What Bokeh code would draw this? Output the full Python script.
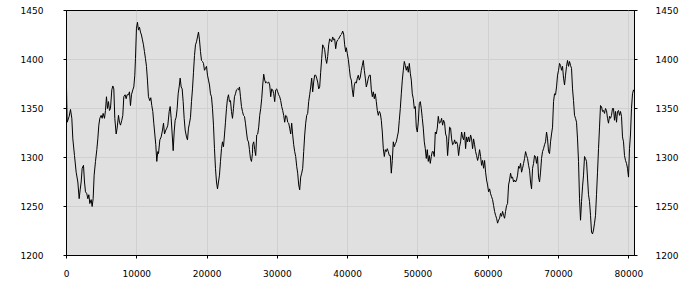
from bokeh.plotting import figure
from bokeh.models import Range1d, LinearAxis, FixedTicker, PrintfTickFormatter
from bokeh.embed import file_html
from bokeh.resources import INLINE

x_vals = [
    0, 95, 379, 569, 758, 901, 1138, 1375, 1612, 1801, 1943, 2086, 2228, 2417, 2560, 2702, 2891, 3034, 3176, 3318,
    3508, 3650, 3792, 3934, 4124, 4313, 4456, 4598, 4740, 4930, 5072, 5214, 5404, 5546, 5688, 5830, 5972, 6115, 6257, 6446,
    6589, 6731, 6873, 7063, 7205, 7394, 7537, 7679, 7868, 8011, 8153, 8342, 8485, 8627, 8816, 8959, 9101, 9243, 9433, 9575,
    9717, 9812, 9954, 10096, 10238, 10381, 10523, 10665, 10807, 10949, 11092, 11234, 11376, 11518, 11660, 11850, 11992, 12134, 12277, 12419,
    12561, 12703, 12845, 12988,
    13090, 13280, 13469, 13659, 13801, 13943, 14133, 14275, 14417, 14607, 14749, 14891, 15033, 15176, 15318, 15460, 15602, 15744, 15887, 16029,
    16171, 16313, 16455, 16598, 16740, 16882, 17072, 17214, 17356, 17498, 17640, 17783, 17925, 18067, 18209, 18351, 18494, 18636, 18778, 18920,
    19062, 19205, 19347, 19489, 19631, 19773, 19916, 20058, 20200, 20342, 20484, 20627, 20769, 20911, 21053, 21195, 21338, 21480, 21622, 21764,
    21906, 22049, 22191, 22333, 22475, 22617, 22760, 22902, 23044, 23186, 23328, 23471, 23613, 23755, 23897, 24039, 24182, 24324, 24466, 24608,
    24750, 24893, 25035, 25177, 25319, 25461, 25604, 25746, 25888, 26030, 26172, 26315, 26457,
    26492, 26634, 26776, 26919, 27061, 27203, 27345, 27487, 27630, 27772, 27914, 28056, 28198, 28341, 28483, 28625, 28767, 28909, 29052, 29194,
    29336, 29478, 29620, 29763, 29905, 30047, 30189, 30331, 30474, 30616, 30758, 30900, 31042, 31185, 31327, 31469, 31611, 31753, 31896, 32038,
    32180, 32322, 32464, 32607, 32749, 32891, 33033, 33175, 33318, 33460, 33602, 33744, 33886, 34029, 34171, 34313, 34455, 34597, 34740, 34882,
    35024, 35166, 35308, 35451, 35593, 35735, 35877, 36019, 36162, 36304, 36446, 36588, 36730, 36873, 37015, 37157, 37299, 37441, 37584, 37726,
    37868, 38010, 38152, 38295, 38437, 38579, 38721, 38863, 39006, 39148, 39290, 39432, 39574, 39717,
    39810, 39952, 40094, 40237, 40379, 40521, 40663, 40805, 40948, 41090, 41232, 41374, 41516, 41659, 41801, 41943, 42085, 42227, 42370, 42512,
    42654, 42796, 42938, 43081, 43223, 43365, 43507, 43649, 43792, 43934, 44076, 44218, 44360, 44503, 44645, 44787, 44929, 45071, 45214, 45356,
    45498, 45640, 45782, 45925, 46067, 46209, 46351, 46493, 46636, 46778, 46920, 47062, 47204, 47347, 47489, 47631, 47773, 47915, 48058, 48200,
    48342, 48484, 48626, 48769, 48911, 49053, 49195, 49337, 49480, 49622, 49764, 49906, 50048, 50191, 50333, 50475, 50617, 50759, 50902, 51044,
    51186, 51328, 51470, 51613, 51755, 51897, 52039, 52181, 52324, 52466, 52608, 52750, 52892, 53035,
    53222, 53364, 53506, 53649, 53791, 53933, 54075, 54217, 54360, 54502, 54644, 54786, 54928, 55071, 55213, 55355, 55497, 55639, 55782, 55924,
    56066, 56208, 56350, 56493, 56635, 56777, 56919, 57061, 57204, 57346, 57488, 57630, 57772, 57915, 58057, 58199, 58341, 58483, 58626, 58768,
    58910, 59052, 59194, 59337, 59479, 59621, 59763, 59905, 60048, 60190, 60332, 60474, 60616, 60759, 60901, 61043, 61185, 61327, 61470, 61612,
    61754, 61896, 62038, 62181, 62323, 62465, 62607, 62749, 62892, 63034, 63176, 63318, 63460, 63603, 63745, 63887, 64029, 64171, 64314, 64456,
    64598, 64740, 64882, 65025, 65167, 65309, 65451, 65593, 65736, 65878, 66020, 66162, 66304, 66447,
    66587, 66729, 66871, 67014, 67156, 67298, 67440, 67582, 67725, 67867, 68009, 68151, 68293, 68436, 68578, 68720, 68862, 69004, 69147, 69289,
    69431, 69573, 69715, 69858, 70000, 70142, 70284, 70426, 70569, 70711, 70853, 70995, 71137, 71280, 71422, 71564, 71706, 71848, 71991, 72133,
    72275, 72417, 72559, 72702, 72844, 72986, 73128, 73270, 73413, 73555, 73697, 73839, 73981, 74124, 74266, 74408, 74550, 74692, 74835, 74977,
    75119, 75261, 75403, 75546, 75688, 75830, 75972, 76114, 76257, 76399, 76541, 76683, 76825, 76968, 77110, 77252, 77394, 77536, 77679, 77821,
    77963, 78105, 78247, 78390, 78532, 78674, 78816, 78958, 79101, 79243, 79385, 79527, 79669, 79812, 79954, 80096, 80238, 80380, 80523, 80665,
    80807,
]

y_vals = [
    1371, 1336, 1342, 1349, 1340, 1319, 1302, 1285, 1275, 1258, 1267, 1275, 1289, 1292, 1275, 1265, 1263, 1258, 1262, 1253,
    1257, 1250, 1258, 1282, 1296, 1308, 1319, 1333, 1340, 1343, 1340, 1345, 1340, 1348, 1362, 1350, 1357, 1348, 1350, 1369,
    1373, 1370, 1340, 1324, 1330, 1343, 1336, 1333, 1338, 1343, 1362, 1364, 1360, 1364, 1364, 1367, 1353, 1364, 1369, 1372,
    1384, 1401, 1432, 1438, 1430, 1433, 1428, 1425, 1420, 1415, 1408, 1401, 1393, 1379, 1362, 1358, 1361, 1353, 1347, 1335,
    1324, 1313, 1296, 1306,
    1304, 1318, 1321, 1328, 1335, 1324, 1328, 1330, 1333, 1347, 1352, 1340, 1324, 1307, 1326, 1338, 1341, 1350, 1365, 1372,
    1381, 1372, 1370, 1357, 1340, 1328, 1321, 1318, 1330, 1335, 1341, 1357, 1370, 1387, 1404, 1415, 1418, 1423, 1428, 1420,
    1408, 1399, 1398, 1396, 1389, 1391, 1393, 1384, 1379, 1374, 1365, 1362, 1350, 1333, 1309, 1289, 1275, 1268, 1275, 1282,
    1296, 1309, 1316, 1311, 1323, 1336, 1350, 1360, 1364, 1357, 1358, 1347, 1340, 1350, 1362, 1365, 1369, 1370, 1369, 1372,
    1362, 1352, 1347, 1343, 1342, 1335, 1326, 1318, 1316, 1308, 1299, 1296, 1304,
    1313, 1316, 1308, 1302, 1323, 1324, 1331, 1343, 1350, 1360, 1374, 1385, 1379, 1376, 1377, 1376, 1377, 1374, 1362, 1370,
    1369, 1365, 1357, 1369, 1370, 1367, 1364, 1362, 1358, 1352, 1348, 1343, 1336, 1343, 1342, 1336, 1335, 1330, 1324, 1335,
    1323, 1313, 1306, 1301, 1291, 1284, 1272, 1267, 1280, 1284, 1289, 1306, 1323, 1335, 1343, 1345, 1357, 1364, 1372, 1381,
    1367, 1377, 1384, 1384, 1381, 1377, 1370, 1372, 1387, 1401, 1415, 1413, 1410, 1401, 1396, 1403, 1415, 1421, 1420, 1418,
    1423, 1420, 1421, 1411, 1418, 1420, 1421, 1423, 1425, 1426, 1429, 1426, 1415, 1408,
    1412, 1406, 1400, 1391, 1382, 1379, 1369, 1362, 1374, 1377, 1376, 1381, 1384, 1379, 1382, 1389, 1394, 1399, 1389, 1381,
    1372, 1376, 1381, 1384, 1384, 1369, 1362, 1367, 1360, 1365, 1357, 1348, 1343, 1347, 1345, 1338, 1326, 1309, 1301, 1308,
    1306, 1309, 1306, 1302, 1302, 1284, 1297, 1316, 1311, 1314, 1316, 1321, 1326, 1338, 1350, 1365, 1379, 1389, 1398, 1394,
    1389, 1393, 1387, 1396, 1386, 1379, 1365, 1360, 1350, 1352, 1331, 1326, 1336, 1355, 1357, 1350, 1340, 1330, 1316, 1309,
    1299, 1308, 1296, 1302, 1294, 1301, 1306, 1306, 1301, 1326, 1324, 1330, 1342, 1335,
    1336, 1340, 1333, 1338, 1335, 1324, 1321, 1302, 1316, 1331, 1330, 1319, 1313, 1314, 1318, 1314, 1316, 1313, 1302, 1311,
    1316, 1326, 1321, 1318, 1326, 1309, 1321, 1316, 1321, 1316, 1323, 1319, 1309, 1319, 1313, 1306, 1302, 1297, 1301, 1308,
    1301, 1292, 1297, 1289, 1297, 1285, 1277, 1272, 1265, 1268, 1263, 1260, 1257, 1251, 1245, 1241, 1238, 1233, 1236, 1238,
    1243, 1240, 1245, 1241, 1238, 1245, 1251, 1253, 1272, 1277, 1284, 1279, 1280, 1275, 1277, 1275, 1277, 1282, 1291, 1289,
    1294, 1285, 1289, 1294, 1299, 1306, 1302, 1299, 1292, 1287, 1275, 1268, 1289, 1294,
    1302, 1301, 1294, 1301, 1280, 1275, 1285, 1299, 1306, 1309, 1313, 1316, 1326, 1319, 1306, 1304, 1316, 1324, 1331, 1357,
    1365, 1364, 1372, 1384, 1389, 1396, 1394, 1389, 1393, 1381, 1374, 1384, 1393, 1399, 1393, 1398, 1394, 1391, 1370, 1358,
    1343, 1340, 1336, 1319, 1296, 1258, 1236, 1255, 1270, 1282, 1301, 1299, 1296, 1279, 1262, 1255, 1241, 1224, 1222, 1226,
    1233, 1241, 1262, 1285, 1309, 1331, 1353, 1352, 1347, 1348, 1345, 1350, 1348, 1340, 1335, 1342, 1340, 1343, 1350, 1350,
    1338, 1347, 1336, 1347, 1348, 1343, 1347, 1342, 1321, 1316, 1302, 1297, 1294, 1289, 1280, 1309, 1324, 1350, 1365, 1369,
    1367,
]

x_ticks = [0, 10000, 20000, 30000, 40000, 50000, 60000, 70000, 80000]
y_ticks = [1200, 1250, 1300, 1350, 1400, 1450]
y_min, y_max = 1200, 1450

p = figure(width=700, height=300,
           x_range=Range1d(0, max(x_vals)), y_range=Range1d(y_min, y_max),
           output_backend="svg", toolbar_location=None,
           min_border_left=66, min_border_right=66, min_border_top=10, min_border_bottom=45,
           background_fill_color="#e0e0e0", border_fill_color="white",
           outline_line_color="black", outline_line_width=1)

p.line(x_vals, y_vals, line_color="black", line_width=1)

right_axis = LinearAxis()
p.add_layout(right_axis, "right")

for ax in [p.xaxis[0], p.yaxis[0], right_axis]:
    ax.axis_line_color = "black"
    ax.major_tick_line_color = "black"
    ax.major_tick_out = 3
    ax.major_tick_in = 0
    ax.minor_tick_line_color = None
    ax.major_label_text_font = "DejaVu Sans"
    ax.major_label_text_font_size = "9px"
    ax.major_label_text_color = "black"

p.xaxis[0].ticker = FixedTicker(ticks=x_ticks)
p.xaxis[0].formatter = PrintfTickFormatter(format="%d")
p.xaxis[0].major_label_standoff = 11
p.yaxis[0].ticker = FixedTicker(ticks=y_ticks)
p.yaxis[0].major_label_standoff = 20
right_axis.ticker = FixedTicker(ticks=y_ticks)
right_axis.major_label_standoff = 18

p.xgrid.ticker = FixedTicker(ticks=x_ticks)
p.ygrid.ticker = FixedTicker(ticks=y_ticks)
p.grid.grid_line_color = "#d0d0d0"
p.grid.grid_line_width = 1

open("out.html", "w").write(file_html(p, INLINE))
